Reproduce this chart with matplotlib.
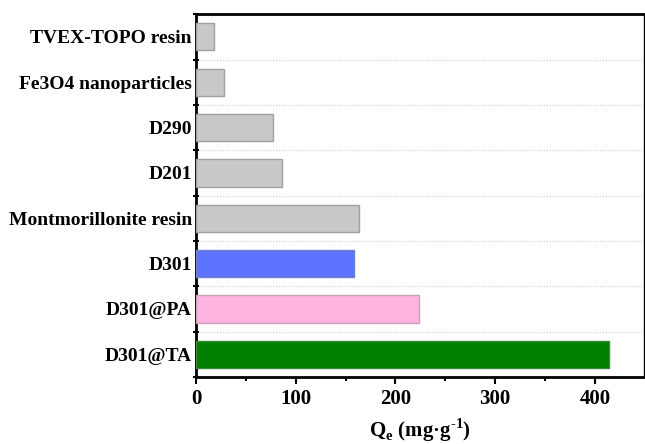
import matplotlib
matplotlib.use("Agg")
import matplotlib.pyplot as plt
import numpy as np
from matplotlib.ticker import MultipleLocator, FixedLocator

plt.rcParams['font.family'] = ['Liberation Serif', 'DejaVu Serif']
plt.rcParams['mathtext.fontset'] = 'custom'
plt.rcParams['mathtext.rm'] = 'Liberation Serif:bold'
plt.rcParams['mathtext.bf'] = 'Liberation Serif:bold'

categories = ["D301@TA", "D301@PA", "D301", "Montmorillonite resin",
              "D201", "D290", "Fe3O4 nanoparticles", "TVEX-TOPO resin"]
values = [414, 224, 158, 163, 86, 77, 28, 18]
colors = ["#007f00", "#ffb3e0", "#5b73ff", "#c8c8c8",
          "#c8c8c8", "#c8c8c8", "#c8c8c8", "#c8c8c8"]
edges = ["#3a8a3a", "#c8a0b8", "#7080d0", "#a0a0a0",
         "#a0a0a0", "#a0a0a0", "#a0a0a0", "#a0a0a0"]

fig = plt.figure(figsize=(6.45, 4.44), dpi=100)
ax = fig.add_axes([0.304, 0.151, 0.694, 0.817])

y = np.arange(len(categories))
ax.barh(y, values, height=0.6, color=colors, edgecolor=edges, linewidth=1.0, zorder=3)

ax.set_xlim(0, 449)
ax.set_ylim(-0.5, len(categories) - 0.5)

ax.xaxis.set_major_locator(MultipleLocator(100))
ax.xaxis.set_minor_locator(MultipleLocator(50))

# category labels at centers (minor), boundary ticks (major)
ax.yaxis.set_major_locator(FixedLocator(np.arange(-0.5, len(categories), 1.0)))
ax.yaxis.set_major_formatter(plt.NullFormatter())
ax.set_yticks(y, minor=True)
ax.set_yticklabels(categories, minor=True, fontsize=14, fontweight='bold')
ax.tick_params(axis='y', which='minor', length=0, pad=3)
ax.tick_params(axis='y', which='major', length=4, width=1.5, direction='inout')
ax.tick_params(axis='x', which='major', length=5, width=1.5, direction='out', labelsize=15, pad=4)
ax.tick_params(axis='x', which='minor', length=3, width=1.5, direction='out')
for lab in ax.get_xticklabels():
    lab.set_fontweight('bold')

ax.grid(axis='y', which='major', linestyle=':', color='#cccccc', linewidth=0.8, zorder=0)

for s in ['left', 'bottom', 'top']:
    ax.spines[s].set_linewidth(2.0)
ax.spines['right'].set_linewidth(1.0)

ax.set_xlabel("Q$_\\mathrm{e}$ (mg·g$^{\\mathrm{\u2010 1}}$)".replace("\u2010 1", "\u20101"),
              fontsize=15, fontweight='bold', labelpad=5)

fig.savefig("out.png", dpi=100)
